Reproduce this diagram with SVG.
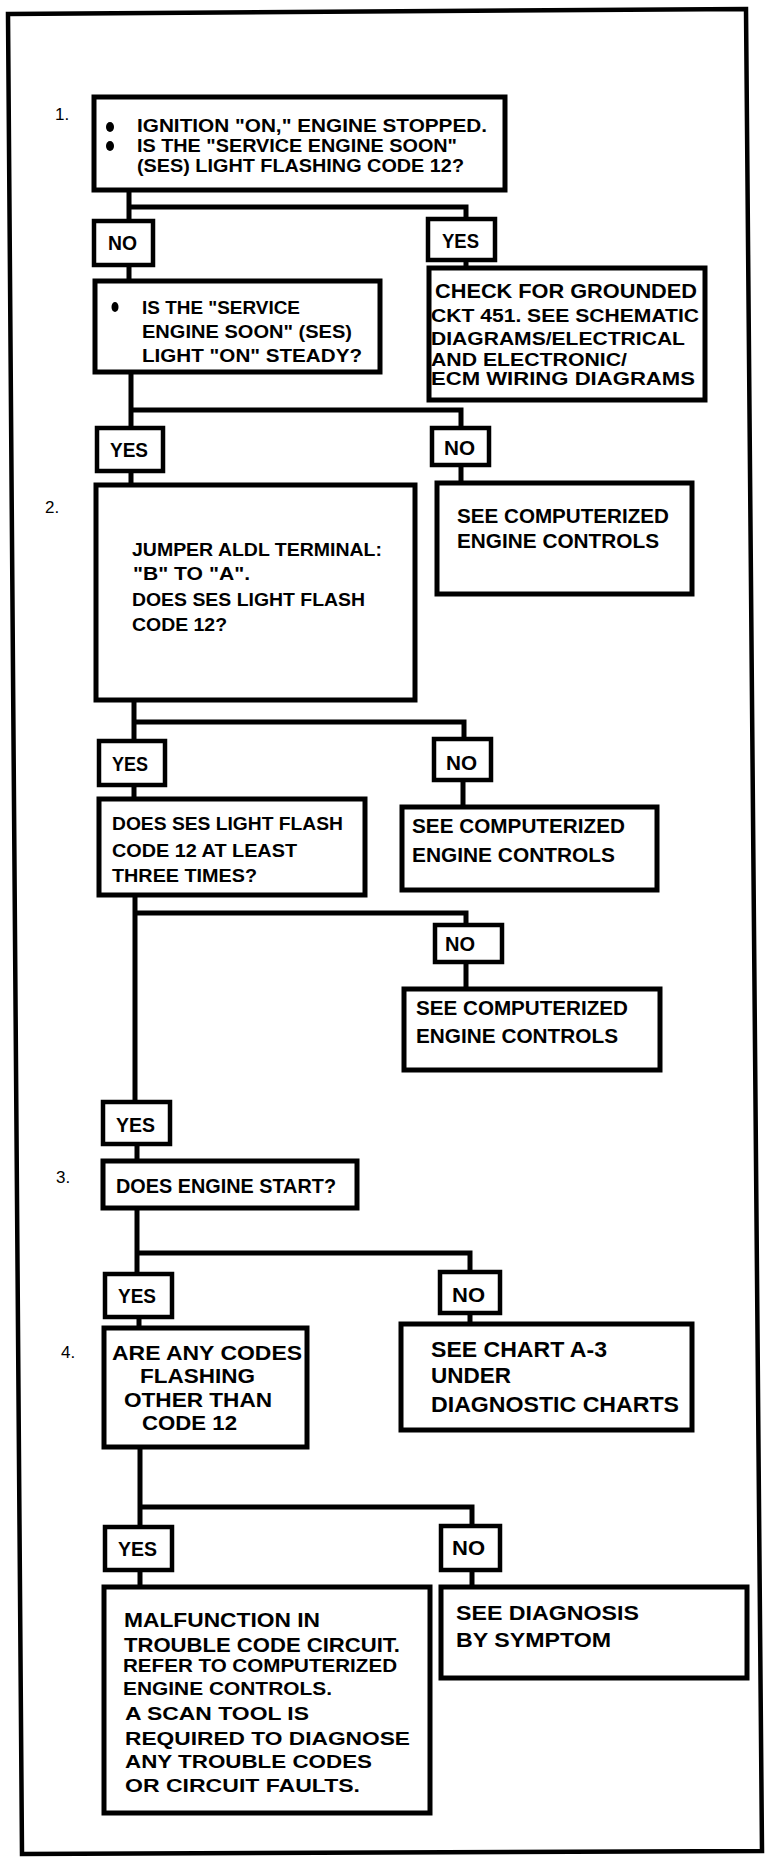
<svg xmlns="http://www.w3.org/2000/svg" width="784" height="1864" viewBox="0 0 784 1864">
<style>
.box{fill:#fff;stroke:#000;stroke-width:5}
.lbl{fill:#fff;stroke:#000;stroke-width:4.5}
.c{fill:none;stroke:#000;stroke-width:5;stroke-linecap:square}
text{font-family:"Liberation Sans",Arial,sans-serif;fill:#000}
.b{font-weight:bold}
.s19{font-size:19px}
.s20{font-size:20px}
.s21{font-size:21px}
.s22{font-size:22px}
.s18{font-size:18px}
.num{font-size:17px;font-weight:normal}
</style>
<rect width="784" height="1864" fill="#fff"/>
<polygon points="8,14 746,9 762,1851 22,1854" fill="none" stroke="#000" stroke-width="4.5"/>

<g id="connectors">
<path class="c" d="M129,190 V220 M129,207 H466 V218 M129,265 V281 M466,260 V267"/>
<path class="c" d="M131,372 V427 M131,410 H461 V427 M131,472 V485 M461,465 V483"/>
<path class="c" d="M134,700 V740 M134,722 H464 V738 M134,785 V799 M463,780 V807"/>
<path class="c" d="M135,895 V1102 M135,913 H466 V925 M466,962 V989"/>
<path class="c" d="M137,1144 V1161 M137,1208 V1273 M137,1253 H470 V1271 M470,1313 V1323 M139,1317 V1328"/>
<path class="c" d="M140,1447 V1527 M140,1507 H472 V1525 M140,1570 V1587 M472,1570 V1587"/>
</g>

<g id="step-numbers">
<text class="num" x="55" y="120">1.</text>
<text class="num" x="45" y="513">2.</text>
<text class="num" x="56" y="1183">3.</text>
<text class="num" x="61" y="1358">4.</text>
</g>

<g id="n1">
<rect class="box" x="94" y="97" width="411" height="93"/>
<ellipse cx="110" cy="127" rx="4" ry="5"/>
<ellipse cx="110" cy="146" rx="4" ry="5"/>
<text class="b s19" x="137" y="132" textLength="350" lengthAdjust="spacingAndGlyphs">IGNITION "ON," ENGINE STOPPED.</text>
<text class="b s19" x="137" y="152" textLength="320" lengthAdjust="spacingAndGlyphs">IS THE "SERVICE ENGINE SOON"</text>
<text class="b s19" x="137" y="172" textLength="327" lengthAdjust="spacingAndGlyphs">(SES) LIGHT FLASHING CODE 12?</text>
</g>

<g id="n1-no">
<rect class="lbl" x="94" y="221" width="59" height="44"/>
<text class="b s20" x="108" y="250" textLength="29" lengthAdjust="spacingAndGlyphs">NO</text>
</g>
<g id="n1-yes">
<rect class="lbl" x="428" y="219" width="67" height="41"/>
<text class="b s20" x="442" y="248" textLength="37" lengthAdjust="spacingAndGlyphs">YES</text>
</g>

<g id="n-check">
<rect class="box" x="429" y="268" width="276" height="132"/>
<text class="b s20" x="435" y="298" textLength="262" lengthAdjust="spacingAndGlyphs">CHECK   FOR  GROUNDED</text>
<text class="b s19" x="431" y="322" textLength="268" lengthAdjust="spacingAndGlyphs">CKT 451. SEE  SCHEMATIC</text>
<text class="b s19" x="431" y="345" textLength="254" lengthAdjust="spacingAndGlyphs">DIAGRAMS/ELECTRICAL</text>
<text class="b s19" x="431" y="366" textLength="196" lengthAdjust="spacingAndGlyphs">AND  ELECTRONIC/</text>
<text class="b s18" x="431" y="385" textLength="264" lengthAdjust="spacingAndGlyphs">ECM  WIRING  DIAGRAMS</text>
</g>

<g id="n-steady">
<rect class="box" x="95" y="281" width="285" height="91"/>
<ellipse cx="115" cy="307" rx="3.5" ry="5"/>
<text class="b s19" x="142" y="314" textLength="158" lengthAdjust="spacingAndGlyphs">IS THE "SERVICE</text>
<text class="b s19" x="142" y="338" textLength="210" lengthAdjust="spacingAndGlyphs">ENGINE SOON" (SES)</text>
<text class="b s19" x="142" y="362" textLength="220" lengthAdjust="spacingAndGlyphs">LIGHT "ON" STEADY?</text>
</g>

<g id="n2-yes">
<rect class="lbl" x="97" y="428" width="66" height="43"/>
<text class="b s20" x="110" y="457" textLength="38" lengthAdjust="spacingAndGlyphs">YES</text>
</g>
<g id="n2-no">
<rect class="lbl" x="432" y="428" width="57" height="37"/>
<text class="b s20" x="444" y="455" textLength="31" lengthAdjust="spacingAndGlyphs">NO</text>
</g>

<g id="n-see1">
<rect class="box" x="437" y="483" width="255" height="111"/>
<text class="b s21" x="457" y="523" textLength="212" lengthAdjust="spacingAndGlyphs">SEE COMPUTERIZED</text>
<text class="b s21" x="457" y="548" textLength="202" lengthAdjust="spacingAndGlyphs">ENGINE CONTROLS</text>
</g>

<g id="n2">
<rect class="box" x="96" y="485" width="319" height="215"/>
<text class="b s19" x="132" y="556" textLength="250" lengthAdjust="spacingAndGlyphs">JUMPER ALDL TERMINAL:</text>
<text class="b s19" x="133" y="580" textLength="117" lengthAdjust="spacingAndGlyphs">"B" TO "A".</text>
<text class="b s19" x="132" y="606" textLength="233" lengthAdjust="spacingAndGlyphs">DOES SES LIGHT FLASH</text>
<text class="b s19" x="132" y="631" textLength="95" lengthAdjust="spacingAndGlyphs">CODE 12?</text>
</g>

<g id="n3-yes">
<rect class="lbl" x="99" y="741" width="66" height="44"/>
<text class="b s20" x="112" y="771" textLength="36" lengthAdjust="spacingAndGlyphs">YES</text>
</g>
<g id="n3-no">
<rect class="lbl" x="434" y="739" width="57" height="41"/>
<text class="b s20" x="446" y="770" textLength="31" lengthAdjust="spacingAndGlyphs">NO</text>
</g>

<g id="n-three-times">
<rect class="box" x="99" y="799" width="266" height="96"/>
<text class="b s19" x="112" y="830" textLength="231" lengthAdjust="spacingAndGlyphs">DOES SES LIGHT FLASH</text>
<text class="b s19" x="112" y="857" textLength="185" lengthAdjust="spacingAndGlyphs">CODE 12 AT LEAST</text>
<text class="b s19" x="112" y="882" textLength="145" lengthAdjust="spacingAndGlyphs">THREE TIMES?</text>
</g>

<g id="n-see2">
<rect class="box" x="402" y="807" width="255" height="83"/>
<text class="b s21" x="412" y="833" textLength="213" lengthAdjust="spacingAndGlyphs">SEE COMPUTERIZED</text>
<text class="b s21" x="412" y="862" textLength="203" lengthAdjust="spacingAndGlyphs">ENGINE CONTROLS</text>
</g>

<g id="n4-no">
<rect class="lbl" x="435" y="925" width="67" height="37"/>
<text class="b s20" x="445" y="951" textLength="30" lengthAdjust="spacingAndGlyphs">NO</text>
</g>

<g id="n-see3">
<rect class="box" x="404" y="989" width="256" height="81"/>
<text class="b s21" x="416" y="1015" textLength="212" lengthAdjust="spacingAndGlyphs">SEE COMPUTERIZED</text>
<text class="b s21" x="416" y="1043" textLength="202" lengthAdjust="spacingAndGlyphs">ENGINE CONTROLS</text>
</g>

<g id="n4-yes">
<rect class="lbl" x="103" y="1102" width="67" height="42"/>
<text class="b s20" x="116" y="1132" textLength="39" lengthAdjust="spacingAndGlyphs">YES</text>
</g>

<g id="n3">
<rect class="box" x="103" y="1161" width="254" height="47"/>
<text class="b s20" x="116" y="1193" textLength="220" lengthAdjust="spacingAndGlyphs">DOES ENGINE START?</text>
</g>

<g id="n5-yes">
<rect class="lbl" x="105" y="1274" width="67" height="43"/>
<text class="b s20" x="118" y="1303" textLength="38" lengthAdjust="spacingAndGlyphs">YES</text>
</g>
<g id="n5-no">
<rect class="lbl" x="440" y="1272" width="60" height="41"/>
<text class="b s20" x="452" y="1302" textLength="33" lengthAdjust="spacingAndGlyphs">NO</text>
</g>

<g id="n4">
<rect class="box" x="104" y="1328" width="203" height="119"/>
<text class="b s21" x="112" y="1360" textLength="190" lengthAdjust="spacingAndGlyphs">ARE ANY CODES</text>
<text class="b s21" x="140" y="1383" textLength="115" lengthAdjust="spacingAndGlyphs">FLASHING</text>
<text class="b s21" x="124" y="1407" textLength="148" lengthAdjust="spacingAndGlyphs">OTHER THAN</text>
<text class="b s21" x="142" y="1430" textLength="95" lengthAdjust="spacingAndGlyphs">CODE 12</text>
</g>

<g id="n-chart">
<rect class="box" x="401" y="1324" width="291" height="106"/>
<text class="b s22" x="431" y="1357" textLength="176" lengthAdjust="spacingAndGlyphs">SEE CHART A-3</text>
<text class="b s22" x="431" y="1383" textLength="80" lengthAdjust="spacingAndGlyphs">UNDER</text>
<text class="b s22" x="431" y="1412" textLength="248" lengthAdjust="spacingAndGlyphs">DIAGNOSTIC CHARTS</text>
</g>

<g id="n6-yes">
<rect class="lbl" x="105" y="1527" width="67" height="43"/>
<text class="b s20" x="118" y="1556" textLength="39" lengthAdjust="spacingAndGlyphs">YES</text>
</g>
<g id="n6-no">
<rect class="lbl" x="441" y="1526" width="59" height="44"/>
<text class="b s20" x="452" y="1555" textLength="33" lengthAdjust="spacingAndGlyphs">NO</text>
</g>

<g id="n-malfunction">
<rect class="box" x="104" y="1587" width="326" height="226"/>
<text class="b s21" x="124" y="1627" textLength="196" lengthAdjust="spacingAndGlyphs">MALFUNCTION IN</text>
<text class="b s21" x="124" y="1652" textLength="276" lengthAdjust="spacingAndGlyphs">TROUBLE CODE CIRCUIT.</text>
<text class="b s18" x="123" y="1672" textLength="274" lengthAdjust="spacingAndGlyphs">REFER TO COMPUTERIZED</text>
<text class="b s18" x="123" y="1695" textLength="209" lengthAdjust="spacingAndGlyphs">ENGINE CONTROLS.</text>
<text class="b s19" x="125" y="1720" textLength="184" lengthAdjust="spacingAndGlyphs">A SCAN TOOL IS</text>
<text class="b s19" x="125" y="1745" textLength="285" lengthAdjust="spacingAndGlyphs">REQUIRED TO DIAGNOSE</text>
<text class="b s19" x="125" y="1768" textLength="247" lengthAdjust="spacingAndGlyphs">ANY TROUBLE CODES</text>
<text class="b s19" x="125" y="1792" textLength="235" lengthAdjust="spacingAndGlyphs">OR CIRCUIT FAULTS.</text>
</g>

<g id="n-symptom">
<rect class="box" x="441" y="1587" width="306" height="91"/>
<text class="b s21" x="456" y="1620" textLength="183" lengthAdjust="spacingAndGlyphs">SEE DIAGNOSIS</text>
<text class="b s21" x="456" y="1647" textLength="155" lengthAdjust="spacingAndGlyphs">BY SYMPTOM</text>
</g>
</svg>
